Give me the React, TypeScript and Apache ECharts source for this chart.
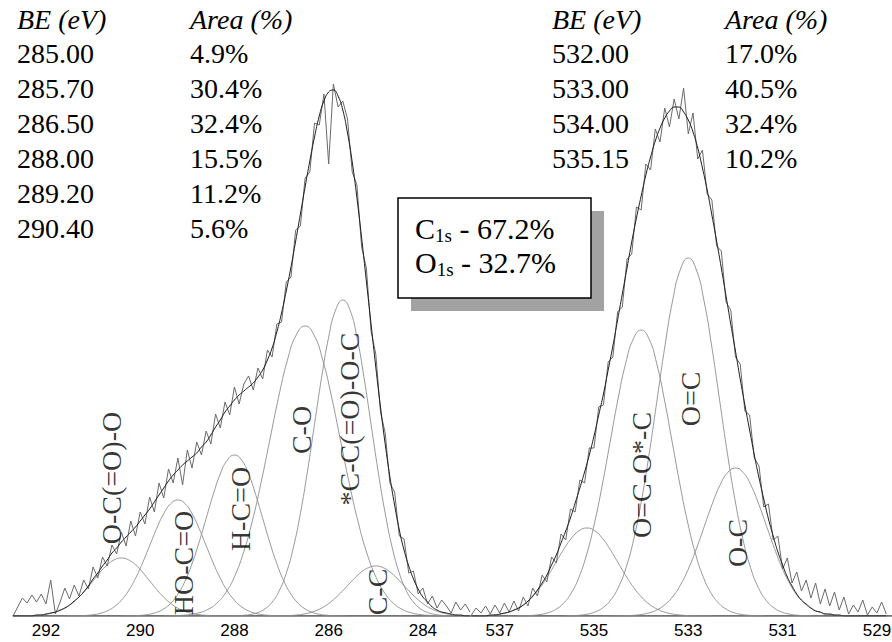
import React, { useEffect, useRef } from 'react';
import * as echarts from 'echarts';

// ---------- peak-fit tables (as printed on the figure) ----------
const C1S_TABLE_BE = ['285.00', '285.70', '286.50', '288.00', '289.20', '290.40'];
const C1S_TABLE_AREA = ['4.9%', '30.4%', '32.4%', '15.5%', '11.2%', '5.6%'];
const O1S_TABLE_BE = ['532.00', '533.00', '534.00', '535.15'];
const O1S_TABLE_AREA = ['17.0%', '40.5%', '32.4%', '10.2%'];
const TOTAL_LINES = [
  { el: 'C', sub: '1s', value: '67.2%' },
  { el: 'O', sub: '1s', value: '32.7%' },
];

// ---------- x-axis tick labels ----------
const C1S_TICKS = [284, 286, 288, 290, 292];
const O1S_TICKS = [529, 531, 533, 535, 537];

// ---------- fitted components (centre eV, height counts, width sigma eV) ----------
const C1S_PEAK_CENTER = [285.0, 285.7, 286.5, 288.0, 289.2, 290.4];
const C1S_PEAK_HEIGHT = [50, 316, 290, 161, 116, 58];
const C1S_PEAK_WIDTH = [0.6, 0.6, 0.75, 0.6, 0.6, 0.6];
const C1S_PEAK_NAME = ['C-C', '*C-C(=O)-O-C', 'C-O', 'H-C=O', 'HO-C=O', 'O-C(=O)-O'];
const C1S_NAME_BE = [284.97, 285.55, 286.57, 287.88, 289.09, 290.6];
const C1S_NAME_LEVEL = [24, 197, 186, 107, 53, 138];

const O1S_PEAK_CENTER = [532.0, 533.0, 534.0, 535.15];
const O1S_PEAK_HEIGHT = [148, 358, 286, 88];
const O1S_PEAK_WIDTH = [0.66, 0.66, 0.66, 0.66];
const O1S_PEAK_NAME = ['O-C', 'O=C', 'O=C-O*-C'];
const O1S_NAME_BE = [531.95, 532.96, 533.99];
const O1S_NAME_LEVEL = [73, 217, 141];

// relative height of a fitted component at 0, 0.25, 0.5 ... 4 widths from its centre
const PEAK_SHAPE = [1, 0.9692, 0.8825, 0.7548, 0.6065, 0.4578, 0.3247, 0.2163, 0.1353,
  0.0796, 0.0439, 0.0228, 0.0111, 0.0051, 0.0022, 0.0009, 0.0003];

// ---------- measured spectra, 0.1 eV steps ----------
const C1S_START = 283.0;
const C1S_RAW = [
  4, 12, 6, 14, 3, 10, 16, 8, 20, 12,
  28, 22, 45, 43, 77, 80, 124, 133, 183, 204,
  262, 285, 348, 369, 431, 444, 497, 515, 509, 532,
  452, 522, 491, 493, 444, 438, 390, 386, 339, 334,
  294, 292, 259, 266, 237, 248, 226, 240, 232, 212,
  229, 201, 214, 188, 202, 172, 185, 161, 174, 148,
  166, 131, 158, 133, 147, 118, 133, 104, 119, 92,
  104, 80, 95, 70, 84, 62, 71, 50, 59, 38,
  49, 27, 36, 20, 31, 17, 28, 14, 2, 36,
  12, 22, 14, 21, 13, 18, 9, 0,
];
const C1S_FIT = [
  0, 0, 1, 1, 2, 3, 4, 6, 9, 14,
  19, 27, 37, 50, 66, 86, 111, 139, 172, 209,
  249, 292, 335, 378, 418, 454, 483, 506, 520, 526,
  524, 515, 500, 479, 455, 429, 402, 375, 349, 325,
  303, 284, 268, 256, 246, 239, 233, 229, 225, 221,
  216, 210, 204, 196, 189, 181, 174, 169, 163, 159,
  155, 151, 146, 141, 135, 128, 121, 114, 107, 101,
  95, 89, 84, 79, 74, 68, 63, 56, 50, 43,
  37, 30, 24, 19, 15, 11, 8, 6, 4, 3,
  2, 1, 1, 0, 0, 0, 0, 0,
];

const O1S_START = 528.8;
const O1S_RAW = [
  2, 14, 3, 9, 1, 16, 4, 11, 2, 19,
  6, 24, 10, 27, 12, 33, 18, 36, 25, 44,
  33, 58, 47, 80, 76, 112, 109, 150, 158, 201,
  205, 252, 259, 306, 314, 365, 370, 416, 422, 466,
  457, 503, 482, 528, 497, 517, 489, 508, 474, 487,
  446, 452, 406, 409, 362, 357, 309, 304, 259, 254,
  211, 209, 168, 168, 133, 136, 104, 107, 76, 82,
  53, 59, 34, 41, 20, 28, 10, 19, 5, 15,
  4, 13, 3, 11, 2, 10, 3, 8, 1,
];
const O1S_FIT = [
  0, 0, 0, 0, 0, 0, 0, 0, 0, 0,
  1, 1, 2, 2, 4, 5, 8, 12, 16, 22,
  30, 39, 51, 64, 80, 97, 117, 138, 161, 186,
  211, 237, 265, 292, 320, 348, 375, 401, 426, 448,
  468, 484, 496, 504, 509, 509, 505, 498, 488, 475,
  459, 441, 420, 398, 374, 348, 322, 296, 270, 246,
  222, 201, 180, 161, 144, 128, 113, 98, 85, 73,
  61, 51, 41, 33, 26, 20, 15, 11, 8, 6,
  4, 3, 2, 1, 1, 0, 0, 0, 0,
];

// ---------- helpers that build series tables from the arrays ----------
const SERIF = '"Liberation Serif", "Times New Roman", serif';
const SANS = '"Liberation Sans", Arial, sans-serif';

function onGrid(start: number, values: number[]) {
  return values.map((v, i) => [Math.round((start + i * 0.1) * 100) / 100, v]);
}

function component(center: number, height: number, width: number) {
  const n = PEAK_SHAPE.length - 1;
  const pts: number[][] = [];
  for (let k = -n; k <= n; k++) {
    pts.push([center + (k / 4) * width, height * PEAK_SHAPE[Math.abs(k)]]);
  }
  return pts;
}

function panelSeries(
  idx: number, lo: number, hi: number,
  centers: number[], heights: number[], widths: number[],
  rawStart: number, raw: number[], fit: number[],
  names: string[], nameBE: number[], nameLevel: number[],
) {
  const s: any[] = [];
  s.push({
    type: 'line', xAxisIndex: idx, yAxisIndex: idx, data: [[lo, 0], [hi, 0]],
    showSymbol: false, silent: true, lineStyle: { color: '#444', width: 1.3 }, z: 1,
  });
  centers.forEach((c, i) => {
    s.push({
      type: 'line', xAxisIndex: idx, yAxisIndex: idx, data: component(c, heights[i], widths[i]),
      showSymbol: false, smooth: true, silent: true,
      lineStyle: { color: '#8c8c8c', width: 0.9 }, z: 2,
    });
  });
  s.push({
    type: 'line', xAxisIndex: idx, yAxisIndex: idx, data: onGrid(rawStart, raw),
    showSymbol: false, silent: true, lineStyle: { color: '#6a6a6a', width: 1 }, z: 3,
  });
  s.push({
    type: 'line', xAxisIndex: idx, yAxisIndex: idx, data: onGrid(rawStart, fit),
    showSymbol: false, smooth: true, silent: true, lineStyle: { color: '#1e1e1e', width: 1 }, z: 4,
  });
  s.push({
    type: 'scatter', xAxisIndex: idx, yAxisIndex: idx, symbolSize: 1, silent: true,
    itemStyle: { color: 'rgba(0,0,0,0)' }, z: 5,
    data: names.map((n, i) => ({ name: n, value: [nameBE[i], nameLevel[i]] })),
    label: {
      show: true, formatter: '{b}', rotate: 90, position: 'inside', align: 'center',
      verticalAlign: 'middle', fontFamily: SERIF, fontSize: 28, color: '#000',
    },
  });
  return s;
}

function tableGraphics(x1: number, x2: number, be: string[], area: string[]) {
  const g: any[] = [];
  const head = { fontFamily: SERIF, fontSize: 28, fontStyle: 'italic', fill: '#000', textVerticalAlign: 'middle' };
  const body = { fontFamily: SERIF, fontSize: 28, fill: '#000', textVerticalAlign: 'middle' };
  g.push({ type: 'text', x: x1, y: 19, z: 10, style: { ...head, text: 'BE (eV)' } });
  g.push({ type: 'text', x: x2, y: 19, z: 10, style: { ...head, text: 'Area (%)' } });
  be.forEach((v, i) => g.push({ type: 'text', x: x1, y: 53 + 35 * i, z: 10, style: { ...body, text: v } }));
  area.forEach((v, i) => g.push({ type: 'text', x: x2, y: 53 + 35 * i, z: 10, style: { ...body, text: v } }));
  return g;
}

export default function App() {
  const ref = useRef<HTMLDivElement>(null);
  useEffect(() => {
    if (!ref.current) return;
    const chart = echarts.init(ref.current, undefined, { renderer: 'svg' });
    const axisCommon = {
      type: 'value', inverse: true,
      axisLine: { show: false }, axisTick: { show: false }, splitLine: { show: false },
    };
    const option: any = {
      animation: false,
      backgroundColor: '#ffffff',
      grid: [
        { left: 13, top: 16, width: 457, height: 600, containLabel: false, outerBoundsMode: 'none' },
        { left: 470, top: 16, width: 422, height: 600, containLabel: false, outerBoundsMode: 'none' },
      ],
      xAxis: [
        {
          ...axisCommon, gridIndex: 0, min: 283.0, max: 292.7,
          axisLabel: { customValues: C1S_TICKS, fontSize: 17, fontFamily: SANS, color: '#000', margin: 6 },
        },
        {
          ...axisCommon, gridIndex: 1, min: 528.68, max: 537.63,
          axisLabel: { customValues: O1S_TICKS, fontSize: 17, fontFamily: SANS, color: '#000', margin: 6 },
        },
      ],
      yAxis: [
        { type: 'value', gridIndex: 0, min: 0, max: 600, show: false },
        { type: 'value', gridIndex: 1, min: 0, max: 600, show: false },
      ],
      series: [
        ...panelSeries(0, 283.0, 292.7, C1S_PEAK_CENTER, C1S_PEAK_HEIGHT, C1S_PEAK_WIDTH,
          C1S_START, C1S_RAW, C1S_FIT, C1S_PEAK_NAME, C1S_NAME_BE, C1S_NAME_LEVEL),
        ...panelSeries(1, 528.68, 537.63, O1S_PEAK_CENTER, O1S_PEAK_HEIGHT, O1S_PEAK_WIDTH,
          O1S_START, O1S_RAW, O1S_FIT, O1S_PEAK_NAME, O1S_NAME_BE, O1S_NAME_LEVEL),
      ],
      graphic: [
        ...tableGraphics(17, 190, C1S_TABLE_BE, C1S_TABLE_AREA),
        ...tableGraphics(552, 725, O1S_TABLE_BE, O1S_TABLE_AREA),
        { type: 'rect', z: 10, shape: { x: 411, y: 211, width: 193, height: 100 }, style: { fill: '#a2a2a2' } },
        {
          type: 'rect', z: 11, shape: { x: 398, y: 198, width: 193, height: 100 },
          style: { fill: '#ffffff', stroke: '#000', lineWidth: 1.5 },
        },
        ...TOTAL_LINES.map((t, i) => ({
          type: 'text', z: 12, x: 415, y: 228 + 34 * i,
          style: {
            text: `{m|${t.el}}{s|${t.sub}}{m| - ${t.value}}`,
            fill: '#000', textVerticalAlign: 'middle',
            rich: {
              m: { fontFamily: SERIF, fontSize: 30, fill: '#000', lineHeight: 34 },
              s: { fontFamily: SERIF, fontSize: 19, fill: '#000', lineHeight: 34, verticalAlign: 'bottom' },
            },
          },
        })),
      ],
    };
    chart.setOption(option);
    return () => chart.dispose();
  }, []);
  return (
    <div
      ref={ref}
      style={{ position: 'absolute', left: 0, top: 0, width: 892, height: 642, background: '#fff' }}
    />
  );
}
